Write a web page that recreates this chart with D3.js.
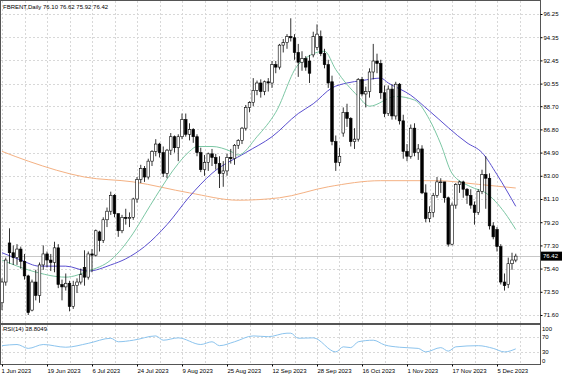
<!DOCTYPE html>
<html>
<head>
<meta charset="utf-8">
<script src="https://cdn.jsdelivr.net/npm/d3@7"></script>
<style>
  body { margin: 0; background: #fff; }
  svg { display: block; }
  text { font-family: "Liberation Sans", Arial, sans-serif; font-size: 6px; fill: #000; }
</style>
</head>
<body>
<div id="chart"></div>
<script>
// ---- data ----
const opens = [72.6,74.3,77.5,76.7,76.3,77.0,76.0,74.8,72.0,74.3,73.2,75.7,76.6,76.1,75.9,77.1,74.1,73.9,74.2,72.3,74.0,74.3,
  75.5,74.7,76.6,76.5,78.4,77.7,79.4,80.1,81.4,79.9,78.5,79.6,79.5,79.6,81.1,82.7,83.6,82.9,84.2,85.0,85.6,84.9,83.2,85.1,
  86.2,85.3,86.2,87.6,86.4,86.8,86.2,84.9,83.5,84.1,84.8,84.5,84.0,83.2,83.4,84.5,84.4,85.5,85.9,86.9,88.6,89.0,90.0,90.6,
  89.9,90.7,90.6,92.1,91.9,93.7,93.9,94.4,94.3,93.1,92.3,92.6,92.4,92.9,93.5,94.4,93.0,92.1,90.7,85.8,84.1,86.5,88.2,87.7,
  85.8,86.0,90.9,89.7,89.9,91.5,92.4,92.2,89.8,88.1,90.1,87.9,90.5,87.5,85.0,84.6,86.9,84.9,85.2,81.6,79.5,80.0,81.4,82.5,
  82.5,81.2,77.4,80.6,82.3,82.5,81.9,81.4,80.6,80.0,81.7,83.1,82.8,78.9,78.6,77.2,74.3,74.1,75.8,76.10];
const highs = [74.6,76.3,78.7,77.3,77.4,77.2,76.6,74.9,74.5,75.3,75.9,77.3,76.8,76.6,77.6,77.4,74.5,75.0,74.4,74.4,74.6,75.4,
  76.9,76.8,77.0,78.6,78.5,79.6,80.4,81.7,81.5,79.9,79.8,80.3,80.0,81.2,82.9,83.9,83.8,84.4,85.1,86.0,85.7,85.4,85.2,86.5,
  86.3,86.4,88.1,88.1,87.3,86.9,86.4,85.3,84.7,84.9,85.2,84.8,84.6,84.2,84.8,85.2,85.6,86.0,87.0,88.8,89.1,91.0,90.8,90.9,
  90.8,91.0,92.4,92.4,93.8,94.2,94.6,95.9,94.6,93.8,93.2,92.8,92.9,94.8,95.4,94.9,93.4,92.5,91.2,86.3,85.3,88.6,88.9,87.8,
  86.9,91.0,91.1,90.3,91.8,93.8,93.0,92.5,90.4,90.4,90.5,90.7,90.6,88.0,85.6,87.2,87.3,85.6,85.5,82.3,80.5,81.6,82.9,82.8,
  82.5,81.3,80.8,82.4,82.6,82.6,82.0,81.9,80.9,81.9,83.5,84.6,83.2,79.2,78.8,77.4,75.0,76.3,76.7,76.62];
const lows = [72.0,74.0,75.8,75.7,75.7,75.4,74.5,71.6,71.9,72.8,72.6,75.3,75.5,75.2,75.1,73.8,72.8,73.6,71.9,72.1,73.4,74.1,
  74.0,74.5,75.1,76.4,76.8,77.5,78.8,79.8,79.6,78.0,78.3,79.0,78.8,79.4,80.8,82.4,82.5,82.7,83.8,84.6,84.5,82.9,82.8,84.7,
  84.9,84.2,86.0,86.2,85.9,85.7,84.6,83.3,83.0,83.4,83.8,83.5,82.0,82.1,83.0,84.0,83.9,85.2,85.6,86.7,88.2,88.7,89.6,89.4,
  89.6,89.9,90.2,91.4,91.7,93.1,93.4,94.0,92.5,91.1,91.6,91.6,90.6,92.7,93.3,92.8,91.8,90.2,85.5,83.4,83.8,86.2,87.0,85.4,
  85.2,85.8,89.5,88.6,89.4,90.9,91.4,89.3,87.8,87.9,87.6,87.6,87.2,84.4,84.2,84.4,84.6,84.3,81.5,79.2,79.2,79.6,81.2,81.6,
  80.8,77.2,77.3,80.3,81.6,81.2,80.7,80.3,79.0,79.8,81.5,80.3,78.6,77.8,76.8,74.1,73.6,73.8,75.3,75.92];
const closes = [74.3,76.1,76.7,76.3,77.0,76.0,74.8,71.8,74.3,73.2,75.7,76.6,76.1,75.9,77.1,74.1,73.9,74.2,72.3,74.0,74.3,74.9,
  74.7,76.6,76.5,78.5,77.7,79.4,80.1,81.4,79.9,78.5,79.6,79.5,79.6,81.1,82.7,83.6,82.9,84.2,85.0,85.6,84.9,83.2,85.1,86.2,
  85.3,86.2,87.6,86.4,86.8,86.2,84.9,83.5,84.1,84.8,84.5,84.0,83.2,83.4,84.5,84.4,85.5,85.9,86.9,88.6,89.0,90.0,90.6,89.9,
  90.7,90.6,92.1,91.9,93.7,93.9,94.4,94.3,93.1,92.3,92.6,91.9,91.4,94.4,94.6,93.0,92.1,90.6,85.8,84.1,84.6,88.2,87.7,85.8,
  86.0,90.9,89.7,89.9,91.5,92.4,92.2,89.8,88.1,90.1,87.9,90.5,87.5,85.0,84.6,86.9,84.9,85.2,81.6,79.5,80.0,81.4,82.5,82.5,
  81.2,77.4,80.6,82.3,82.5,81.9,81.4,80.6,80.0,81.7,83.1,82.8,78.9,78.0,77.2,74.3,74.0,75.8,76.1,76.42];

// moving averages, sampled at bar indices
const maFastIdx = [0,8,17,23,29,35,38,41,47,50,52,56,61,63,68,73,79,86,89,95,98,105,110,114,117,120,125,129,134,137];
const maFast    = [76.1,75.2,74.7,75.2,76.1,78.3,79.8,81.3,84.0,85.0,85.4,85.4,85.0,84.7,86.2,88.2,92.1,93.2,91.7,89.5,88.7,89.5,89.2,87.6,85.6,83.2,82.1,81.6,80.0,78.6];
const maSlowIdx = [0,5,10,17,23,29,33,38,44,50,56,65,72,79,83,88,92,96,101,103,109,114,124,128,132,137];
const maSlow    = [76.7,76.1,75.6,75.6,75.2,75.7,76.2,77.2,79.0,81.3,83.2,84.9,86.2,88.1,88.9,90.2,90.6,90.8,91.0,90.6,89.6,88.3,85.7,84.9,83.1,80.5];
const maLongIdx = [0,7,22,35,50,63,74,87,101,116,127,137];
const maLong    = [85.0,84.2,82.9,82.5,81.6,81.0,81.2,82.1,82.6,82.6,82.3,82.0];

// RSI(14), sampled
const rsiIdx = [0,4,7,11,17,23,29,31,35,41,43,47,53,56,58,62,67,71,76,77,79,83,89,91,93,95,99,102,106,111,113,117,119,121,127,131,134,137];
const rsiVal = [47,50,40,50,43,53,66,57,61,72,61,67,50,57,47,57,72,70,79,79,66,67,31,44,42,57,61,49,43,40,31,42,33,44,47,40,31,38.8];

const priceTicks = [96.25,94.35,92.45,90.55,88.70,86.80,84.90,83.00,81.10,79.20,77.30,75.40,73.50,71.60];
const dateIdx = [0,12,24,36,48,60,72,84,96,108,120,132];
const dateLabels = ["1 Jun 2023","19 Jun 2023","6 Jul 2023","24 Jul 2023","9 Aug 2023","25 Aug 2023",
  "12 Sep 2023","28 Sep 2023","16 Oct 2023","1 Nov 2023","17 Nov 2023","5 Dec 2023"];
const rsiLevels = [70, 30];
const rsiLabels = [100, 70, 30, 0];
const lastPrice = 76.42;

// ---- layout ----
const W = 564, H = 376;
const main = {left: 1, right: 540, top: 1, bottom: 323};
const sub = {top: 325, bottom: 364};

const svg = d3.select("#chart").append("svg").attr("width", W).attr("height", H);

const x = d3.scaleLinear().domain([0, 137]).range([2, 515.75]);
const y = d3.scaleLinear().domain([71.60, 96.25]).range([315, 14]);
const yr = d3.scaleLinear().domain([0, 100]).range([sub.bottom, sub.top]);

svg.append("clipPath").attr("id", "clipMain").append("rect")
  .attr("x", main.left).attr("y", main.top).attr("width", main.right - main.left).attr("height", main.bottom - main.top);
svg.append("clipPath").attr("id", "clipSub").append("rect")
  .attr("x", main.left).attr("y", sub.top).attr("width", main.right - main.left).attr("height", sub.bottom - sub.top);

// grid
const gridIdx = d3.range(0, 139, 6);
const grid = svg.append("g").attr("stroke", "#d8d8d8").attr("stroke-dasharray", "2,2").attr("stroke-width", 1);
grid.selectAll(".vg").data(gridIdx).enter().append("line")
  .attr("x1", d => Math.round(x(d)) + 0.5).attr("x2", d => Math.round(x(d)) + 0.5)
  .attr("y1", main.top).attr("y2", main.bottom);
grid.selectAll(".vs").data(gridIdx).enter().append("line")
  .attr("x1", d => Math.round(x(d)) + 0.5).attr("x2", d => Math.round(x(d)) + 0.5)
  .attr("y1", sub.top).attr("y2", sub.bottom);
grid.selectAll(".hg").data(priceTicks).enter().append("line")
  .attr("x1", main.left).attr("x2", main.right)
  .attr("y1", d => Math.round(y(d)) + 0.5).attr("y2", d => Math.round(y(d)) + 0.5);
grid.selectAll(".hr").data(rsiLevels).enter().append("line")
  .attr("x1", main.left).attr("x2", main.right)
  .attr("y1", d => Math.round(yr(d)) + 0.5).attr("y2", d => Math.round(yr(d)) + 0.5);

// bid line
svg.append("line")
  .attr("x1", main.left).attr("x2", main.right)
  .attr("y1", Math.round(y(lastPrice)) + 0.5).attr("y2", Math.round(y(lastPrice)) + 0.5)
  .attr("stroke", "#c8c8c8");

// moving averages
const mainG = svg.append("g").attr("clip-path", "url(#clipMain)");
const maLine = d3.line().x(d => x(d[0])).y(d => y(d[1])).curve(d3.curveMonotoneX);
mainG.append("path").datum(d3.zip(maLongIdx, maLong)).attr("d", maLine)
  .attr("fill", "none").attr("stroke", "#f4b183").attr("stroke-width", 1);
mainG.append("path").datum(d3.zip(maSlowIdx, maSlow)).attr("d", maLine)
  .attr("fill", "none").attr("stroke", "#5a4fcf").attr("stroke-width", 1);
mainG.append("path").datum(d3.zip(maFastIdx, maFast)).attr("d", maLine)
  .attr("fill", "none").attr("stroke", "#7cc7a4").attr("stroke-width", 1);

// candles
const bars = d3.range(closes.length);
const candles = mainG.append("g");
candles.selectAll(".wick").data(bars).enter().append("line")
  .attr("x1", i => x(i)).attr("x2", i => x(i))
  .attr("y1", i => y(highs[i])).attr("y2", i => y(lows[i]))
  .attr("stroke", "#000").attr("stroke-width", 0.8);
candles.selectAll(".body").data(bars).enter().append("rect")
  .attr("x", i => x(i) - 1.3)
  .attr("y", i => y(Math.max(opens[i], closes[i])))
  .attr("width", 2.6)
  .attr("height", i => Math.max(0.8, Math.abs(y(opens[i]) - y(closes[i]))))
  .attr("fill", i => closes[i] >= opens[i] ? "#fff" : "#000")
  .attr("stroke", "#000").attr("stroke-width", 0.6);

// RSI
svg.append("g").attr("clip-path", "url(#clipSub)").append("path")
  .datum(d3.zip(rsiIdx, rsiVal))
  .attr("d", d3.line().x(d => x(d[0])).y(d => yr(d[1])).curve(d3.curveMonotoneX))
  .attr("fill", "none").attr("stroke", "#8cc4ee").attr("stroke-width", 1);

// frames
svg.append("rect").attr("x", main.left - 0.5).attr("y", main.top - 0.5)
  .attr("width", main.right - main.left + 1).attr("height", main.bottom - main.top + 1)
  .attr("fill", "none").attr("stroke", "#555");
svg.append("rect").attr("x", main.left - 0.5).attr("y", sub.top - 0.5)
  .attr("width", main.right - main.left + 1).attr("height", sub.bottom - sub.top + 1)
  .attr("fill", "none").attr("stroke", "#555");

// price axis
const yAxis = svg.append("g").attr("transform", `translate(${main.right + 0.5},0)`)
  .call(d3.axisRight(y).tickValues(priceTicks).tickFormat(d3.format(".2f")).tickSize(2).tickPadding(1));
yAxis.select(".domain").remove();
yAxis.selectAll("text").style("font-size", "6px").style("font-family", "Liberation Sans, Arial, sans-serif");

// RSI axis labels
svg.append("g").selectAll("text").data(rsiLabels).enter().append("text")
  .attr("x", 542)
  .attr("y", d => d === 100 ? 330.5 : d === 0 ? 363 : yr(d) + 2)
  .text(d => d);

// date axis
const xAxis = svg.append("g").attr("transform", `translate(0,${sub.bottom + 0.5})`)
  .call(d3.axisBottom(x).tickValues(dateIdx).tickFormat((d, k) => dateLabels[k]).tickSize(2).tickPadding(2));
xAxis.select(".domain").remove();
xAxis.selectAll("text").attr("text-anchor", "start").attr("dx", d => d === 0 ? -1 : 0)
  .style("font-size", "6px").style("font-family", "Liberation Sans, Arial, sans-serif");

// current price marker
svg.append("rect").attr("x", 541).attr("y", y(lastPrice) - 4.5).attr("width", 21).attr("height", 9).attr("fill", "#000");
svg.append("text").attr("x", 543).attr("y", y(lastPrice) + 2.2).style("fill", "#fff")
  .text(lastPrice.toFixed(2));

// titles
svg.append("text").attr("x", 3).attr("y", 8.5)
  .text(`FBRENT,Daily  ${opens[137].toFixed(2)} ${highs[137].toFixed(2)} ${lows[137].toFixed(2)} ${closes[137].toFixed(2)}`);
svg.append("text").attr("x", 3).attr("y", 331).text("RSI(14) 38.8049");
</script>
</body>
</html>
